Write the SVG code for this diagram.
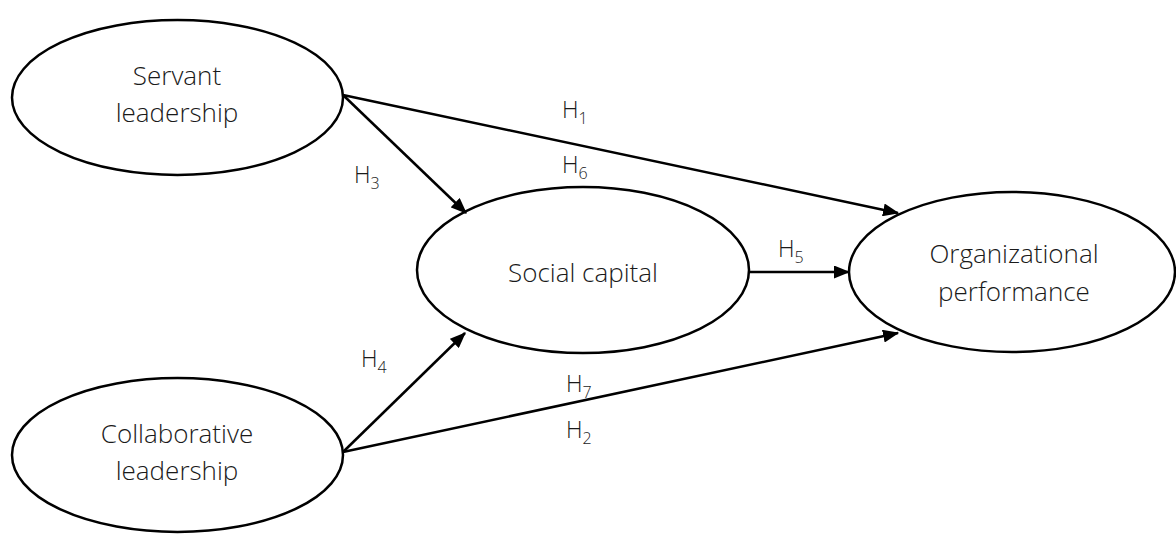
<svg xmlns="http://www.w3.org/2000/svg" width="1176" height="534" viewBox="0 0 1176 534">
<style>
.n{fill:#fff;stroke:#000;stroke-width:2.5}
.t{font-family:"Open Sans","Noto Sans",sans-serif;font-weight:300;font-size:26px;fill:#1a1a1a;text-anchor:middle}
.h{font-family:"Open Sans","Noto Sans",sans-serif;font-weight:300;font-size:23px;fill:#1a1a1a}
.s{font-size:16px}
.c{stroke:#000;stroke-width:2.5;fill:none;marker-end:url(#a)}
</style>
<defs>
<marker id="a" markerWidth="6.5" markerHeight="5.2" refX="6" refY="2.6" orient="auto" markerUnits="strokeWidth"><path d="M0,0 L6.5,2.6 L0,5.2 Z" fill="#000"/></marker>
</defs>
<g id="servant"><ellipse class="n" cx="177.5" cy="97.5" rx="165.5" ry="77.5"/><text class="t" x="177" y="85">Servant</text><text class="t" x="177" y="122">leadership</text></g>
<g id="collab"><ellipse class="n" cx="177.5" cy="455" rx="165.5" ry="77"/><text class="t" x="177" y="443">Collaborative</text><text class="t" x="177" y="480">leadership</text></g>
<g id="social"><ellipse class="n" cx="583" cy="270" rx="166" ry="83"/><text class="t" x="583" y="282">Social capital</text></g>
<g id="org"><ellipse class="n" cx="1012" cy="272" rx="163" ry="80"/><text class="t" x="1014" y="263">Organizational</text><text class="t" x="1014" y="301">performance</text></g>
<g id="connectors">
<line class="c" x1="343" y1="95" x2="898" y2="213"/>
<line class="c" x1="343" y1="95" x2="466" y2="213"/>
<line class="c" x1="749" y1="272" x2="849" y2="272"/>
<line class="c" x1="343" y1="452" x2="465" y2="333"/>
<line class="c" x1="343" y1="452" x2="898" y2="333"/>
</g>
<g id="labels">
<text class="h" x="562" y="118">H<tspan class="s" dy="6">1</tspan></text>
<text class="h" x="562" y="173">H<tspan class="s" dy="6">6</tspan></text>
<text class="h" x="354" y="183">H<tspan class="s" dy="6">3</tspan></text>
<text class="h" x="778" y="257">H<tspan class="s" dy="6">5</tspan></text>
<text class="h" x="361" y="367">H<tspan class="s" dy="6">4</tspan></text>
<text class="h" x="566" y="392">H<tspan class="s" dy="6">7</tspan></text>
<text class="h" x="566" y="438">H<tspan class="s" dy="6">2</tspan></text>
</g>
</svg>
